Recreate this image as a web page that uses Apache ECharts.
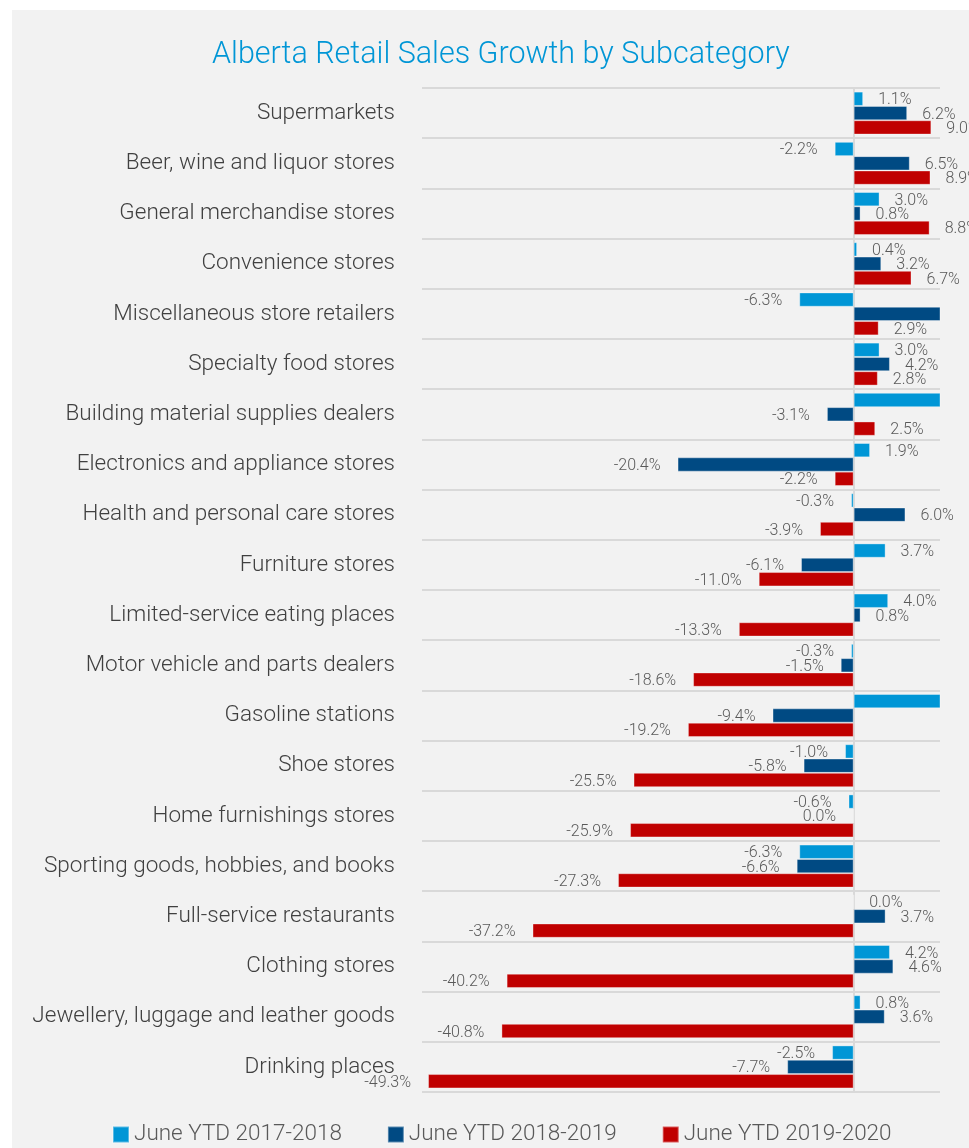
<!DOCTYPE html>
<html>
<head>
<meta charset="utf-8">
<script src="https://cdn.jsdelivr.net/npm/echarts@6/dist/echarts.min.js"></script>
<style>
  html, body { margin: 0; padding: 0; background: #ffffff; }
  #panel { position: absolute; left: 12px; top: 10px; width: 957px; height: 1138px; background: #f2f2f2; }
  #chart { position: absolute; left: 0; top: 0; width: 969px; height: 1148px; }
</style>
</head>
<body>
<div id="panel"></div>
<div id="chart"></div>
<script>
// Subcategories, top to bottom
const categories = [
  'Supermarkets',
  'Beer, wine and liquor stores',
  'General merchandise stores',
  'Convenience stores',
  'Miscellaneous store retailers',
  'Specialty food stores',
  'Building material supplies dealers',
  'Electronics and appliance stores',
  'Health and personal care stores',
  'Furniture stores',
  'Limited-service eating places',
  'Motor vehicle and parts dealers',
  'Gasoline stations',
  'Shoe stores',
  'Home furnishings stores',
  'Sporting goods, hobbies, and books',
  'Full-service restaurants',
  'Clothing stores',
  'Jewellery, luggage and leather goods',
  'Drinking places'
];

// Year-over-year growth, per cent
const ytd2017_2018 = [1.1, -2.2, 3.0, 0.4, -6.3, 3.0, 12.0, 1.9, -0.3, 3.7, 4.0, -0.3, 14.0, -1.0, -0.6, -6.3, 0.0, 4.2, 0.8, -2.5];
const ytd2018_2019 = [6.2, 6.5, 0.8, 3.2, 11.5, 4.2, -3.1, -20.4, 6.0, -6.1, 0.8, -1.5, -9.4, -5.8, -0, -6.6, 3.7, 4.6, 3.6, -7.7];
const ytd2019_2020 = [9.0, 8.9, 8.8, 6.7, 2.9, 2.8, 2.5, -2.2, -3.9, -11.0, -13.3, -18.6, -19.2, -25.5, -25.9, -27.3, -37.2, -40.2, -40.8, -49.3];

const seriesNames = ['June YTD 2017-2018', 'June YTD 2018-2019', 'June YTD 2019-2020'];
const seriesValues = [ytd2017_2018, ytd2018_2019, ytd2019_2020];
const seriesColors = ['#0096d6', '#004a83', '#c00000'];

const X_MIN = -50;
const X_MAX = 10;
const FONT = 'Roboto, "Noto Sans", sans-serif';

function isNegative(v) {
  return v < 0 || Object.is(v, -0);
}

// Labels sit outside the bar end; values past the axis end are clipped and unlabelled
function toItems(values) {
  return values.map(function (v) {
    const neg = isNegative(v);
    return {
      value: v,
      label: {
        show: v <= X_MAX,
        position: neg ? 'left' : 'right',
        distance: neg ? 17 : 15
      }
    };
  });
}

const chart = echarts.init(document.getElementById('chart'), null, { renderer: 'canvas' });

chart.setOption({
  backgroundColor: 'transparent',
  animation: false,
  title: {
    text: 'Alberta Retail Sales Growth by Subcategory',
    left: 207,
    top: 35,
    textStyle: { color: '#0096d6', fontSize: 30.5, fontWeight: 300, fontFamily: FONT }
  },
  legend: {
    data: seriesNames,
    left: 107,
    top: 1118,
    icon: 'rect',
    itemWidth: 16,
    itemHeight: 16,
    itemGap: 45,
    textStyle: { color: '#595959', fontSize: 22.5, fontWeight: 300, fontFamily: FONT }
  },
  grid: { left: 422, right: 29, top: 88, bottom: 56, containLabel: false },
  xAxis: {
    type: 'value',
    min: X_MIN,
    max: X_MAX,
    interval: 50,
    axisLine: { show: false },
    axisTick: { show: false },
    axisLabel: { show: false },
    splitLine: {
      show: true,
      showMinLine: false,
      showMaxLine: false,
      lineStyle: { color: '#d9d9d9', width: 2 }
    }
  },
  yAxis: {
    type: 'category',
    data: categories,
    inverse: true,
    axisLine: { show: false },
    axisTick: { show: false },
    axisLabel: {
      interval: 0,
      margin: 27,
      color: '#404040',
      fontSize: 22.5,
      fontWeight: 300,
      fontFamily: FONT
    },
    splitLine: {
      show: true,
      interval: 0,
      lineStyle: { color: '#d9d9d9', width: 2 }
    }
  },
  series: seriesNames.map(function (name, i) {
    return {
      name: name,
      type: 'bar',
      data: toItems(seriesValues[i]),
      barGap: '0%',
      barCategoryGap: '14.4%',
      clip: true,
      itemStyle: {
        color: seriesColors[i],
        borderColor: 'rgba(255,255,255,0.35)',
        borderWidth: 1
      },
      label: {
        show: true,
        color: '#595959',
        fontSize: 16,
        fontWeight: 300,
        fontFamily: FONT,
        offset: [0, 1.5],
        formatter: function (p) { return p.value.toFixed(1) + '%'; }
      }
    };
  })
});
</script>
</body>
</html>
